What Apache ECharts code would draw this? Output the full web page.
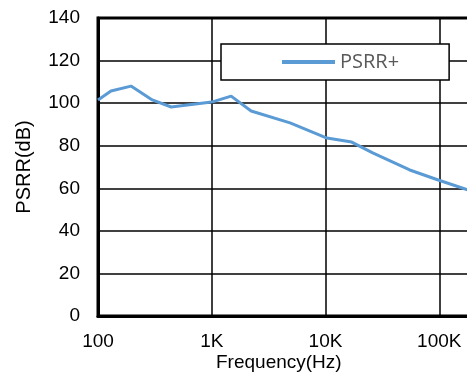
<!DOCTYPE html>
<html>
<head>
<meta charset="utf-8">
<script src="https://cdn.jsdelivr.net/npm/echarts@6/dist/echarts.min.js"></script>
<style>html,body{margin:0;padding:0;background:#fff;}#c{width:467px;height:374px;}</style>
</head>
<body>
<div id="c"></div>
<script>
// Frequency (Hz) and PSRR+ (dB)
const freqs = [100, 130, 195, 300, 440, 1000, 1480, 2220, 4880, 10300, 17000, 26000, 55000, 98000, 200000];
const psrr  = [101.5, 105.7, 108, 101.5, 98.2, 100.5, 103.3, 96.3, 90.7, 83.6, 81.7, 76.6, 68.6, 63.9, 58.3];
const yTicks = [0, 20, 40, 60, 80, 100, 120, 140];
const xTickLabels = {100: '100', 1000: '1K', 10000: '10K', 100000: '100K', 1000000: '1M'};
const seriesName = 'PSRR+';

const chart = echarts.init(document.getElementById('c'));
const font = 'Liberation Sans, Arial, sans-serif';
chart.setOption({
  animation: false,
  backgroundColor: '#fff',
  grid: {
    left: 98, top: 18, width: 455, height: 298,
    outerBoundsMode: 'none', containLabel: false,
    show: true, borderColor: '#000', borderWidth: 3, backgroundColor: 'transparent'
  },
  legend: {
    data: [seriesName],
    left: 221, top: 44,
    padding: [8, 50, 8, 61],
    backgroundColor: '#fff',
    borderColor: '#000', borderWidth: 1.5,
    icon: 'rect', itemWidth: 53, itemHeight: 4, itemGap: 6,
    textStyle: { fontFamily: 'Open Sans, sans-serif', fontSize: 20, color: '#595959', lineHeight: 19 }
  },
  xAxis: {
    type: 'log', logBase: 10, min: 100, max: 1000000,
    axisLine: { show: true, lineStyle: { color: '#000', width: 3 } },
    axisTick: { show: false },
    minorTick: { show: false },
    splitLine: { show: true, lineStyle: { color: '#000', width: 1.5 } },
    axisLabel: {
      margin: 16, fontFamily: font, fontSize: 19, color: '#000',
      formatter: v => xTickLabels[Math.round(v)] || ''
    }
  },
  yAxis: {
    type: 'value', min: yTicks[0], max: yTicks[yTicks.length - 1], interval: 20,
    name: 'PSRR(dB)', nameLocation: 'middle', nameGap: 64, nameRotate: 90,
    nameTextStyle: { fontFamily: font, fontSize: 20, color: '#000' },
    axisLine: { show: true, lineStyle: { color: '#000', width: 3 } },
    axisTick: { show: false },
    splitLine: { show: true, lineStyle: { color: '#000', width: 1.5 } },
    axisLabel: { margin: 18, fontFamily: font, fontSize: 19, color: '#000' }
  },
  graphic: [{
    type: 'text', left: 216, top: 353,
    style: { text: 'Frequency(Hz)', fontFamily: font, fontSize: 19, fill: '#000' }
  }],
  series: [{
    name: seriesName, type: 'line',
    data: freqs.map((f, i) => [f, psrr[i]]),
    showSymbol: false, symbol: 'none', smooth: false,
    lineStyle: { color: '#5B9BD5', width: 3 },
    itemStyle: { color: '#5B9BD5' }
  }]
});
</script>
</body>
</html>
